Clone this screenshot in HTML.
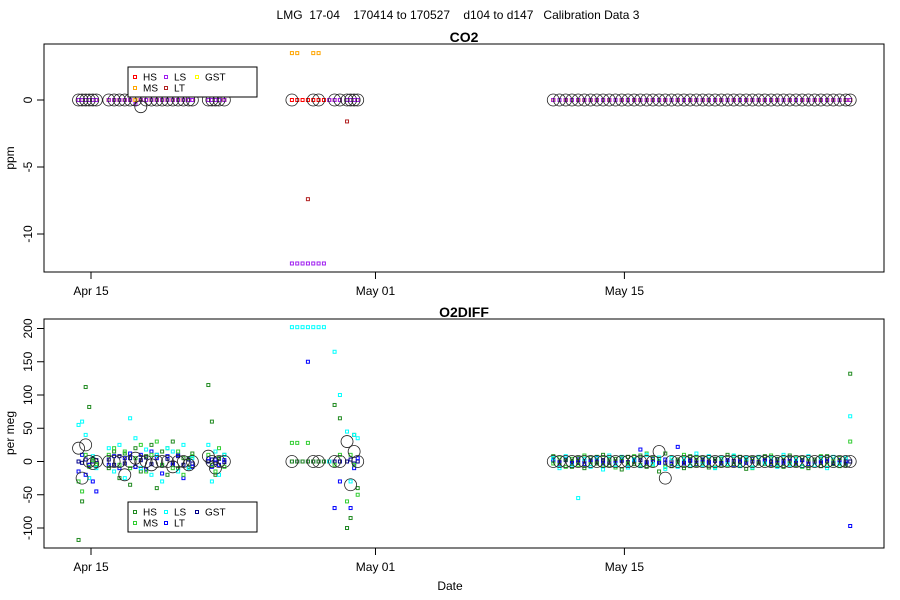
<!DOCTYPE html>
<html><head><meta charset="utf-8"><style>
body{margin:0;background:#fff}
svg{display:block;font-family:"Liberation Sans",sans-serif}
.pre{white-space:pre}
</style></head><body>
<svg id="chart" width="900" height="600" xmlns="http://www.w3.org/2000/svg">
<text class="pre" xml:space="preserve" x="458" y="19" text-anchor="middle" font-size="12">LMG  17-04    170414 to 170527    d104 to d147   Calibration Data 3</text>
<text x="464" y="42" text-anchor="middle" font-size="14" font-weight="bold">CO2</text>
<text x="464" y="317" text-anchor="middle" font-size="14" font-weight="bold">O2DIFF</text>
<text transform="translate(14,158) rotate(-90)" text-anchor="middle" font-size="12">ppm</text>
<text transform="translate(14,433) rotate(-90)" text-anchor="middle" font-size="12">per meg</text>
<text x="450" y="590" text-anchor="middle" font-size="12">Date</text>
<g id="g1"></g>
<g id="g2"></g>
</svg>
<script>
const days = [104.3,104.5,104.7,104.9,105.1,105.3,
106.0,106.3,106.6,106.9,107.2,107.5,107.8,108.1,108.4,108.7,109.0,109.3,109.6,109.9,110.2,110.5,110.7,
111.6,111.8,112.0,112.2,112.5,
116.3,116.6,116.9,117.2,117.5,117.8,118.1,118.4,118.7,119.0,
119.4,119.6,119.8,120.0,
131.0,131.35,131.7,132.05,132.4,132.75,133.1,133.45,133.8,134.15,134.5,134.85,135.2,135.55,135.9,136.25,136.6,136.95,137.3,137.65,138.0,138.35,138.7,139.05,139.4,139.75,140.1,140.45,140.8,141.15,141.5,141.85,142.2,142.55,142.9,143.25,143.6,143.95,144.3,144.65,145.0,145.35,145.7,146.05,146.4,146.75,147.1,147.45,147.7];
const xTickLabels = ["Apr 15","May 01","May 15"];
const xTickDays = [105,121,135];
const co2Ticks = [0,-5,-10];
const o2Ticks = [200,150,100,50,0,-50,-100];
const seriesNames = ["HS","MS","LS","LT","GST"];
const co2Colors = ["#ff0000","#ffa500","#a020f0","#b22222","#ffff00"];
const o2Colors = ["#228b22","#32cd32","#00ffff","#0000ff","#00008b"];

const co2Ref = [0,0,0,0,0,0, 0,0,0,0,0,0,-0.5,0,0,0,0,0,0,0,0,0,0, 0,0,0,0,0, 0,null,null,null,0,0,null,null,0,0, 0,0,0,0,
0,0,0,0,0,0,0,0,0,0,0,0,0,0,0,0,0,0,0,0,0,0,0,0,0,0,0,0,0,0,0,0,0,0,0,0,0,0,0,0,0,0,0,0,0,0,0,0,0];
const co2HS = [0,0,0,0,0,0, 0,0,0,0,0,0,0,0,0,0,0,0,0,0,0,0,0, 0,0,0,0,0, 0,0,0,0,0,0,0,0,0,0, 0,0,0,0,
0,0,0,0,0,0,0,0,0,0,0,0,0,0,0,0,0,0,0,0,0,0,0,0,0,0,0,0,0,0,0,0,0,0,0,0,0,0,0,0,0,0,0,0,0,0,0,0,0];
const co2MS = [0,0,0,0,0,0, 0,0,0,0,0,0,0,0,0,0,0,0,0,0,0,0,0, 0,0,0,0,0, 3.5,3.5,null,null,3.5,3.5,null,null,null,null, 0,0,0,0,
0,0,0,0,0,0,0,0,0,0,0,0,0,0,0,0,0,0,0,0,0,0,0,0,0,0,0,0,0,0,0,0,0,0,0,0,0,0,0,0,0,0,0,0,0,0,0,0,0];
const co2LS = [0,0,0,0,0,0, 0,0,0,0,0,-0.3,0,0,0,0,0,0,0,0,0,0,0, 0,0,0,0,0, -12.2,-12.2,-12.2,-12.2,-12.2,-12.2,-12.2,0,0,0, 0,0,0,0,
0,0,0,0,0,0,0,0,0,0,0,0,0,0,0,0,0,0,0,0,0,0,0,0,0,0,0,0,0,0,0,0,0,0,0,0,0,0,0,0,0,0,0,0,0,0,0,0,0];
const co2LT = [0,0,0,0,0,0, 0,0,0,0,0,0,0,0,0,0,0,0,0,0,0,0,0, 0,0,0,0,0, null,null,null,-7.4,null,null,null,null,null,null, -1.6,0,0,0,
0,0,0,0,0,0,0,0,0,0,0,0,0,0,0,0,0,0,0,0,0,0,0,0,0,0,0,0,0,0,0,0,0,0,0,0,0,0,0,0,0,0,0,0,0,0,0,0,0];
const co2GST = [0,0,0,0,0,0, 0,0,0,0,0,0,0,0,0,0,0,0,0,0,0,0,0, 0,0,0,0,0, null,null,null,null,null,null,null,null,null,null, 0,0,0,0,
0,0,0,0,0,0,0,0,0,0,0,0,0,0,0,0,0,0,0,0,0,0,0,0,0,0,0,0,0,0,0,0,0,0,0,0,0,0,0,0,0,0,0,0,0,0,0,0,0];

const o2Ref = [20,-25,25,0,-3,0, 0,0,0,-20,0,5,0,0,-5,0,0,0,-8,0,0,-5,0, 8,0,-10,0,0, 0,null,null,null,0,0,null,null,0,0, 30,-35,15,0,
0,0,0,0,0,0,0,0,0,0,0,0,0,0,0,0,0,15,-25,0,0,0,0,0,0,0,0,0,0,0,0,0,0,0,0,0,0,0,0,0,0,0,0,0,0,0,0,0,0];
const o2HS = [-118,-60,112,82,5,-5, -10,15,-25,12,-35,20,-15,8,25,-40,15,-20,30,-10,5,-8,12, 115,60,-20,5,10, 0,0,0,0,0,0,0,0,85,65, -100,-85,40,-40,
8,-5,3,-8,5,-10,6,-3,10,-6,4,-12,7,-4,9,-8,5,-15,12,-7,3,-10,8,-5,6,-9,4,-6,10,-4,7,-11,5,-3,8,-6,4,-8,9,-5,6,-10,3,-7,8,-4,5,-6,132];
const o2MS = [-30,-45,10,-8,2,-4, 10,20,-5,15,-10,5,25,-15,10,30,-5,20,-10,15,-20,5,8, 10,-5,-15,20,-8, 28,28,null,28,null,null,null,null,-5,10, -60,10,-5,-50,
-3,6,-8,4,-5,9,-4,7,-6,3,-9,5,-3,8,-5,12,-6,4,-8,6,-4,10,-7,5,-3,7,-9,4,-5,8,-6,3,-10,6,-4,9,-5,7,-3,5,-8,4,-6,8,-5,3,-7,6,30];
const o2LS = [55,60,40,-25,8,-10, 20,-15,25,-25,65,35,-10,18,-20,10,-30,20,15,-15,25,-10,5, 25,-30,15,-20,10, 202,202,202,202,202,202,202,0,165,100, 45,-30,40,35,
5,-10,8,-6,-55,4,-8,6,-12,9,-5,7,-9,3,-7,10,-4,6,-11,5,-8,4,-6,12,-5,8,-10,6,-4,9,-7,5,-9,7,-3,6,-8,10,-5,4,-7,8,-6,5,-10,7,-4,6,68];
const o2LT = [-15,10,-20,-5,-30,-45, -5,8,-10,5,12,-8,10,-12,15,5,-18,8,-5,10,-25,5,-8, 5,-8,3,-5,2, null,null,null,150,null,null,null,null,-70,-30, -100,-70,-10,5,
2,-3,4,-2,3,-4,2,5,-3,4,-2,3,-5,2,18,-3,4,-2,3,-4,22,-3,2,-4,3,-2,4,-3,2,-5,3,-2,4,-3,2,-4,3,-2,5,-3,2,-4,3,-2,4,-3,2,-3,-97];
const o2GST = [0,-2,3,-5,0,2, 3,-5,8,-3,5,-8,2,6,-4,10,-6,4,-2,8,-5,3,-3, 0,3,-2,4,-1, 0,0,0,0,0,0,0,0,0,0, 0,3,-3,0,
1,-1,2,0,-2,1,0,-1,2,-2,0,1,-1,0,2,-1,1,0,-2,1,0,-1,1,2,-1,0,1,-2,0,1,-1,2,0,-1,1,0,-2,1,0,-1,2,0,-1,1,0,-2,1,0,0];

const NS = "http://www.w3.org/2000/svg";
const X0 = 44, X1 = 884;
const drawOrder = [4,3,0,1,2];
function xScale(d){ return 91 + (d - 105) * 17.78; }
function mk(parent, tag, attrs){ const e = document.createElementNS(NS, tag); for (const k in attrs) e.setAttribute(k, attrs[k]); parent.appendChild(e); return e; }

function drawPanel(g, top, bottom, yScale, ticks, series, colors, ref, legendY, prefix){
  const box = mk(g, 'rect', {x:X0, y:top, width:X1-X0, height:bottom-top, fill:'none', stroke:'#000', 'stroke-width':1});
  
  
  ticks.forEach(t => {
    const y = yScale(t);
    const ln = mk(g, 'line', {x1:X0-7, x2:X0, y1:y, y2:y, stroke:'#000'});
    
    
    const tx = mk(g, 'text', {transform:`translate(32,${y}) rotate(-90)`, 'text-anchor':'middle', 'font-size':12});
    tx.textContent = t;
    
    
  });
  xTickDays.forEach((d, i) => {
    const x = xScale(d);
    const ln = mk(g, 'line', {x1:x, x2:x, y1:bottom, y2:bottom+7, stroke:'#000'});
    
    
    const tx = mk(g, 'text', {x:x, y:bottom+23, 'text-anchor':'middle', 'font-size':12});
    tx.textContent = xTickLabels[i];
    
    
  });
  drawOrder.forEach(si => {
    const vals = series[si];
    vals.forEach((v, i) => {
      if (v === null || v === undefined || days[i] === undefined) return;
      const r = mk(g, 'rect', {x:xScale(days[i])-1.5, y:yScale(v)-1.5, width:3, height:3, fill:'none', stroke:colors[si], 'stroke-width':1});
      
      
    });
  });
  ref.forEach((v, i) => {
    if (v === null || v === undefined || days[i] === undefined) return;
    const c = mk(g, 'circle', {cx:xScale(days[i]), cy:yScale(v), r:6, fill:'none', stroke:'#222', 'stroke-width':0.8});
    
    
  });
  const lg = mk(g, 'g', {});
  
  
  mk(lg, 'rect', {x:128, y:legendY, width:129, height:30, fill:'#fff', stroke:'#000', 'stroke-width':1});
  const pos = [[135,legendY+10],[135,legendY+21],[166,legendY+10],[166,legendY+21],[197,legendY+10]];
  seriesNames.forEach((n, i) => {
    const e = mk(lg, 'g', {});
    
    
    mk(e, 'rect', {x:pos[i][0]-1.5, y:pos[i][1]-1.5, width:3, height:3, fill:'none', stroke:colors[i]});
    const t = mk(e, 'text', {x:pos[i][0]+8, y:pos[i][1]+3.5, 'font-size':10});
    t.textContent = n;
  });
}

drawPanel(document.getElementById('g1'), 44, 272, v => 100 - v * 13.4, co2Ticks,
  [co2HS, co2MS, co2LS, co2LT, co2GST], co2Colors, co2Ref, 67, 'co2');
drawPanel(document.getElementById('g2'), 319, 548, v => 461.5 - v * 0.665, o2Ticks,
  [o2HS, o2MS, o2LS, o2LT, o2GST], o2Colors, o2Ref, 502, 'o2');
</script>
</body></html>
